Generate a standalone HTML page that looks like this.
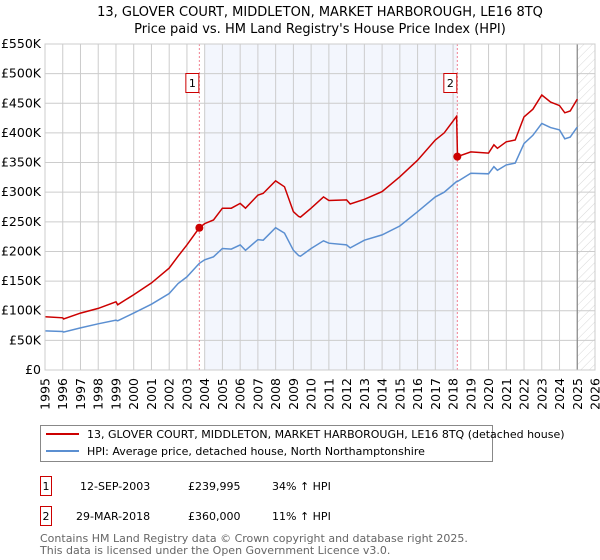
<!DOCTYPE html>
<html><head><meta charset="utf-8"><style>
body{margin:0;background:#fff;}
svg{display:block;font-family:"DejaVu Sans","Liberation Sans",sans-serif;}
</style></head><body>
<svg id="chart" width="600" height="560" viewBox="0 0 600 560">
<defs>
<pattern id="hatch" width="6" height="6" patternUnits="userSpaceOnUse" patternTransform="rotate(45)">
<line x1="0" y1="0" x2="0" y2="6" stroke="#d8d8d8" stroke-width="1"/></pattern>
</defs>
<text x="320" y="16" text-anchor="middle" font-size="13">13, GLOVER COURT, MIDDLETON, MARKET HARBOROUGH, LE16 8TQ</text>
<text x="320" y="33" text-anchor="middle" font-size="13">Price paid vs. HM Land Registry's House Price Index (HPI)</text>
<g id="plot"></g>
<g>
<rect x="40.5" y="425.5" width="452" height="36" fill="#fff" stroke="#888"/>
<line x1="46" y1="434" x2="79" y2="434" stroke="#cc0000" stroke-width="2"/>
<text x="87" y="438" font-size="11">13, GLOVER COURT, MIDDLETON, MARKET HARBOROUGH, LE16 8TQ (detached house)</text>
<line x1="46" y1="451" x2="79" y2="451" stroke="#5b8fd1" stroke-width="2"/>
<text x="87" y="455" font-size="11">HPI: Average price, detached house, North Northamptonshire</text>
</g>
<g font-size="11">
<rect x="40.5" y="476.5" width="11" height="19" fill="#fff" stroke="#cc0000"/>
<text x="46" y="490" text-anchor="middle">1</text>
<text x="80" y="490">12-SEP-2003</text><text x="188" y="490">£239,995</text><text x="272" y="490">34% ↑ HPI</text>
<rect x="40.5" y="506.5" width="11" height="19" fill="#fff" stroke="#cc0000"/>
<text x="46" y="520" text-anchor="middle">2</text>
<text x="76" y="520">29-MAR-2018</text><text x="188" y="520">£360,000</text><text x="272" y="520">11% ↑ HPI</text>
</g>
<text x="40" y="542" font-size="11" fill="#666">Contains HM Land Registry data © Crown copyright and database right 2025.</text>
<text x="40" y="554" font-size="11" fill="#666">This data is licensed under the Open Government Licence v3.0.</text>
</svg>
<script>
const years=[1995,1996,1996.05,1997,1998,1999,1999.1,2000,2001,2002,2002.5,2003,2003.7,2004,2004.5,2005,2005.5,2006,2006.3,2007,2007.3,2008,2008.5,2009,2009.3,2009.4,2010,2010.7,2011,2012,2012.2,2013,2014,2015,2016,2017,2017.5,2018.2,2018.25,2019,2020,2020.3,2020.5,2021,2021.5,2022,2022.5,2023,2023.5,2024,2024.3,2024.6,2025];
const hpi=[66,65,64,71,78,84,83,96,111,129,146,157,180,186,191,205,204,211,202,220,219,240,231,202,193,192,205,218,214,211,206,219,228,243,267,292,300,318,318,332,331,343,337,346,349,382,396,416,409,405,390,393,410];
const price=[90,88,86,96,104,115,110,127,147,172,192,211,239.995,247,253,273,273,281,273,295,298,319,309,267,259,258,273,292,286,287,280,288,301,326,354,388,400,428,360,368,366,380,374,385,388,427,440,464,452,446,434,437,457];
const sales=[2003.7,2018.24];
const salePrices=[239.995,360];
const yTicks=[0,50,100,150,200,250,300,350,400,450,500,550];
const xTicks=[1995,1996,1997,1998,1999,2000,2001,2002,2003,2004,2005,2006,2007,2008,2009,2010,2011,2012,2013,2014,2015,2016,2017,2018,2019,2020,2021,2022,2023,2024,2025,2026];
const NS="http://www.w3.org/2000/svg";
const L=45,R=595,T=44,B=370;
const x=v=>L+(v-1995)/31*(R-L);
const y=v=>B-v/550*(B-T);
const g=document.getElementById('plot');
function mk(t,a,p){const e=document.createElementNS(NS,t);for(const k in a)e.setAttribute(k,a[k]);(p||g).appendChild(e);return e;}
let e;
e=mk('rect',{x:x(2004),y:T,width:x(2018.24)-x(2004),height:B-T,fill:'#f3f6fd'});


e=mk('rect',{x:x(2025),y:T,width:R-x(2025),height:B-T,fill:'url(#hatch)'});


yTicks.forEach(v=>{
 e=mk('line',{x1:L,x2:R,y1:y(v),y2:y(v),stroke:'#ccc'});
 
 
 e=mk('text',{x:41,y:y(v)+4,'text-anchor':'end','font-size':'12.5'});e.textContent=v===0?'£0':'£'+v+'K';
 
 
});
xTicks.forEach(v=>{
 e=mk('line',{x1:x(v),x2:x(v),y1:T,y2:B,stroke:'#ccc'});
 
 
 e=mk('text',{x:0,y:0,'text-anchor':'end','font-size':'12.5',transform:`translate(${x(v)+4.5},378) rotate(-90)`});e.textContent=v;
 
 
});
e=mk('line',{x1:x(2025),x2:x(2025),y1:T,y2:B,stroke:'#888','stroke-width':1.2});


sales.forEach((s,i)=>{
 e=mk('line',{x1:x(s),x2:x(s),y1:T,y2:B,stroke:'#f08090','stroke-dasharray':'2,2'});
 
 
 e=mk('rect',{x:x(s)-13.5,y:73.5,width:13,height:19,fill:'#fff',stroke:'#cc0000'});
 
 
 e=mk('text',{x:x(s)-7,y:87,'text-anchor':'middle','font-size':'11'});e.textContent=i+1;
 
 
});
const path=a=>a.map((v,i)=>(i?'L':'M')+x(years[i]).toFixed(1)+','+y(v).toFixed(1)).join('');
e=mk('path',{d:path(hpi),fill:'none',stroke:'#5b8fd1','stroke-width':1.5});


e=mk('path',{d:path(price),fill:'none',stroke:'#cc0000','stroke-width':1.5});


sales.forEach((s,i)=>{
 e=mk('circle',{cx:x(s),cy:y(salePrices[i]),r:4,fill:'#cc0000'});
 
 
});
e=mk('rect',{x:L,y:T,width:R-L,height:B-T,fill:'none',stroke:'#ccc'});


</script>
</body></html>
